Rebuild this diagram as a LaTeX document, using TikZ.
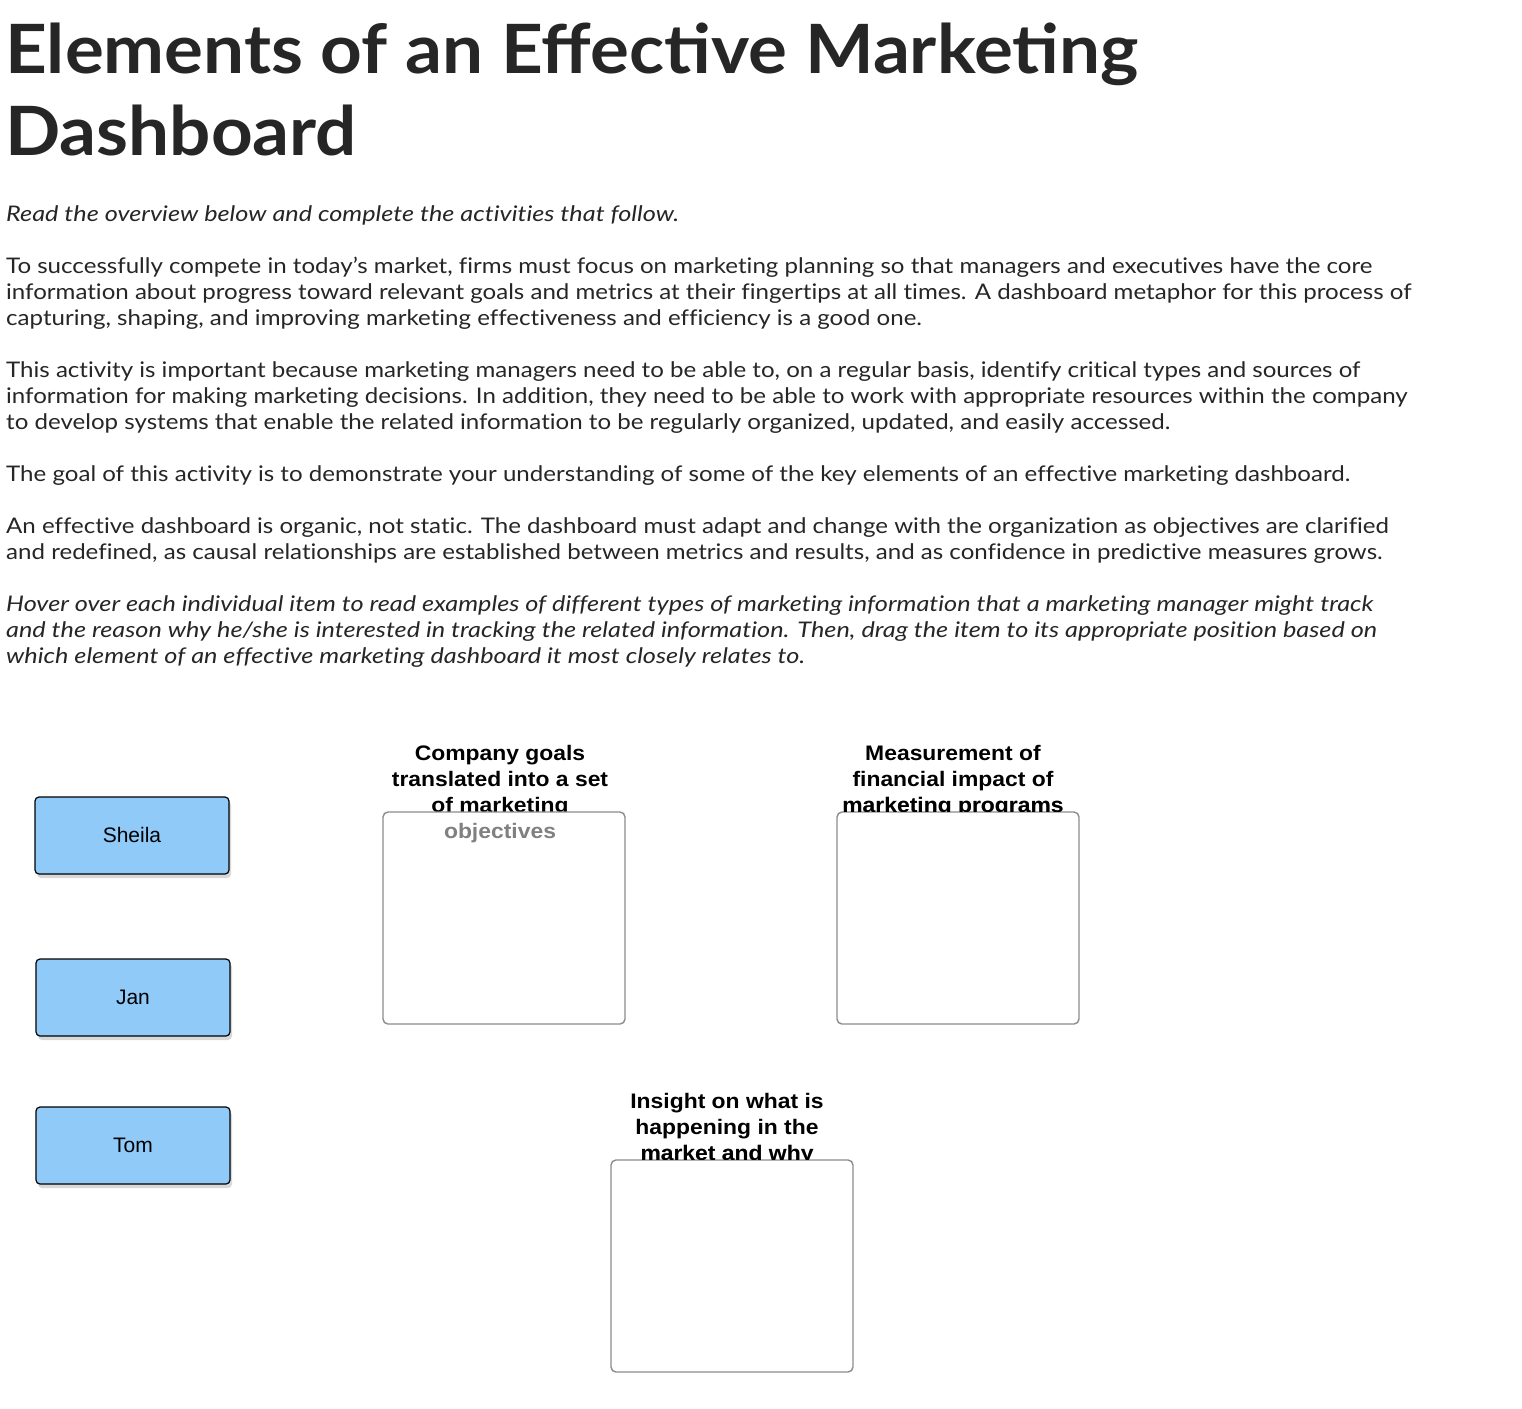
\documentclass[tikz,border=0pt]{standalone}
\usepackage{fontspec}
\setmainfont[FakeStretch=1.12,Ligatures=NoCommon,ItalicFeatures={FakeStretch=1.175}]{Lato}
\newfontfamily\titlefont[FakeStretch=1.07]{Lato}
\newfontfamily\arial{Liberation Sans}
\newfontfamily\arialw[FakeStretch=1.09]{Liberation Sans}
\usetikzlibrary{shadows}
\definecolor{txt}{HTML}{262626}
\definecolor{cardblue}{HTML}{90CAF9}
\tikzset{
  x=1pt,y=-1pt,
  ttl/.style={anchor=base west,inner sep=0,font=\titlefont\fontsize{68}{68}\selectfont\bfseries,text=txt},
  body/.style={anchor=base west,inner sep=0,font=\fontsize{21.5}{26}\selectfont,text=txt},
  ibody/.style={body,font=\fontsize{21.5}{26}\selectfont\itshape},
  card/.style={draw=black,line width=1.2pt,fill=cardblue,rounded corners=4pt,drop shadow={shadow xshift=2pt,shadow yshift=-4pt,opacity=0.3}},
  drop/.style={draw=gray!90,line width=1.4pt,rounded corners=5pt,fill=white},
  cardtxt/.style={font=\arial\fontsize{21}{21}\selectfont},
  lbl/.style={anchor=base,inner sep=0,font=\arialw\bfseries\fontsize{21}{21}\selectfont}
}
\begin{document}
\begin{tikzpicture}
\useasboundingbox[fill=white] (0,0) rectangle (1522,1408);
\node[ttl] (t1) at (5,73) {Elements of an Effective Marketing};
\node[ttl] (t2) at (5,155) {Dashboard};
\node[ibody] (p0) at (6,221) {Read the overview below and complete the activities that follow.};
\node[body] (a1) at (6,273) {To successfully compete in today{\char"0027}s market, firms must focus on marketing planning so that managers and executives have the core};
\node[body] (a2) at (6,299) {information about progress toward relevant goals and metrics at their fingertips at all times. A dashboard metaphor for this process of};
\node[body] (a3) at (6,325) {capturing, shaping, and improving marketing effectiveness and efficiency is a good one.};
\node[body] (b1) at (6,377) {This activity is important because marketing managers need to be able to, on a regular basis, identify critical types and sources of};
\node[body] (b2) at (6,403) {information for making marketing decisions. In addition, they need to be able to work with appropriate resources within the company};
\node[body] (b3) at (6,429) {to develop systems that enable the related information to be regularly organized, updated, and easily accessed.};
\node[body] (c1) at (6,481) {The goal of this activity is to demonstrate your understanding of some of the key elements of an effective marketing dashboard.};
\node[body] (d1) at (6,533) {An effective dashboard is organic, not static. The dashboard must adapt and change with the organization as objectives are clarified};
\node[body] (d2) at (6,559) {and redefined, as causal relationships are established between metrics and results, and as confidence in predictive measures grows.};
\node[ibody] (e1) at (6,611) {Hover over each individual item to read examples of different types of marketing information that a marketing manager might track};
\node[ibody] (e2) at (6,637) {and the reason why he/she is interested in tracking the related information. Then, drag the item to its appropriate position based on};
\node[ibody] (e3) at (6,663) {which element of an effective marketing dashboard it most closely relates to.};

\draw[card] (35,797) rectangle (229,874);
\node[cardtxt] (s) at (132,835) {Sheila};
\draw[card] (36,959) rectangle (230,1036);
\node[cardtxt] (j) at (133,997) {Jan};
\draw[card] (36,1107) rectangle (230,1184);
\node[cardtxt] (tm) at (133,1145) {Tom};

\node[lbl] (l1a) at (500,760) {Company goals};
\node[lbl] (l1b) at (500,786) {translated into a set};
\node[lbl] (l1c) at (500,812) {of marketing};
\draw[drop] (383,812) rectangle (625,1024);
\node[lbl,text=gray] (l1d) at (500,838) {objectives};

\node[lbl] (l2a) at (953,760) {Measurement of};
\node[lbl] (l2b) at (953,786) {financial impact of};
\node[lbl,text=gray] (l2c) at (953,812) {marketing programs};
\draw[drop] (837,812) rectangle (1079,1024);
\begin{scope}
\clip (820,790) rectangle (1090,811.3);
\node[lbl] at (953,812) {marketing programs};
\end{scope}

\node[lbl] (l3a) at (727,1108) {Insight on what is};
\node[lbl] (l3b) at (727,1134) {happening in the};
\node[lbl,text=gray] (l3c) at (727,1160) {market and why};
\draw[drop] (611,1160) rectangle (853,1372);
\begin{scope}
\clip (600,1138) rectangle (870,1159.3);
\node[lbl] at (727,1160) {market and why};
\end{scope}
\end{tikzpicture}
\end{document}
